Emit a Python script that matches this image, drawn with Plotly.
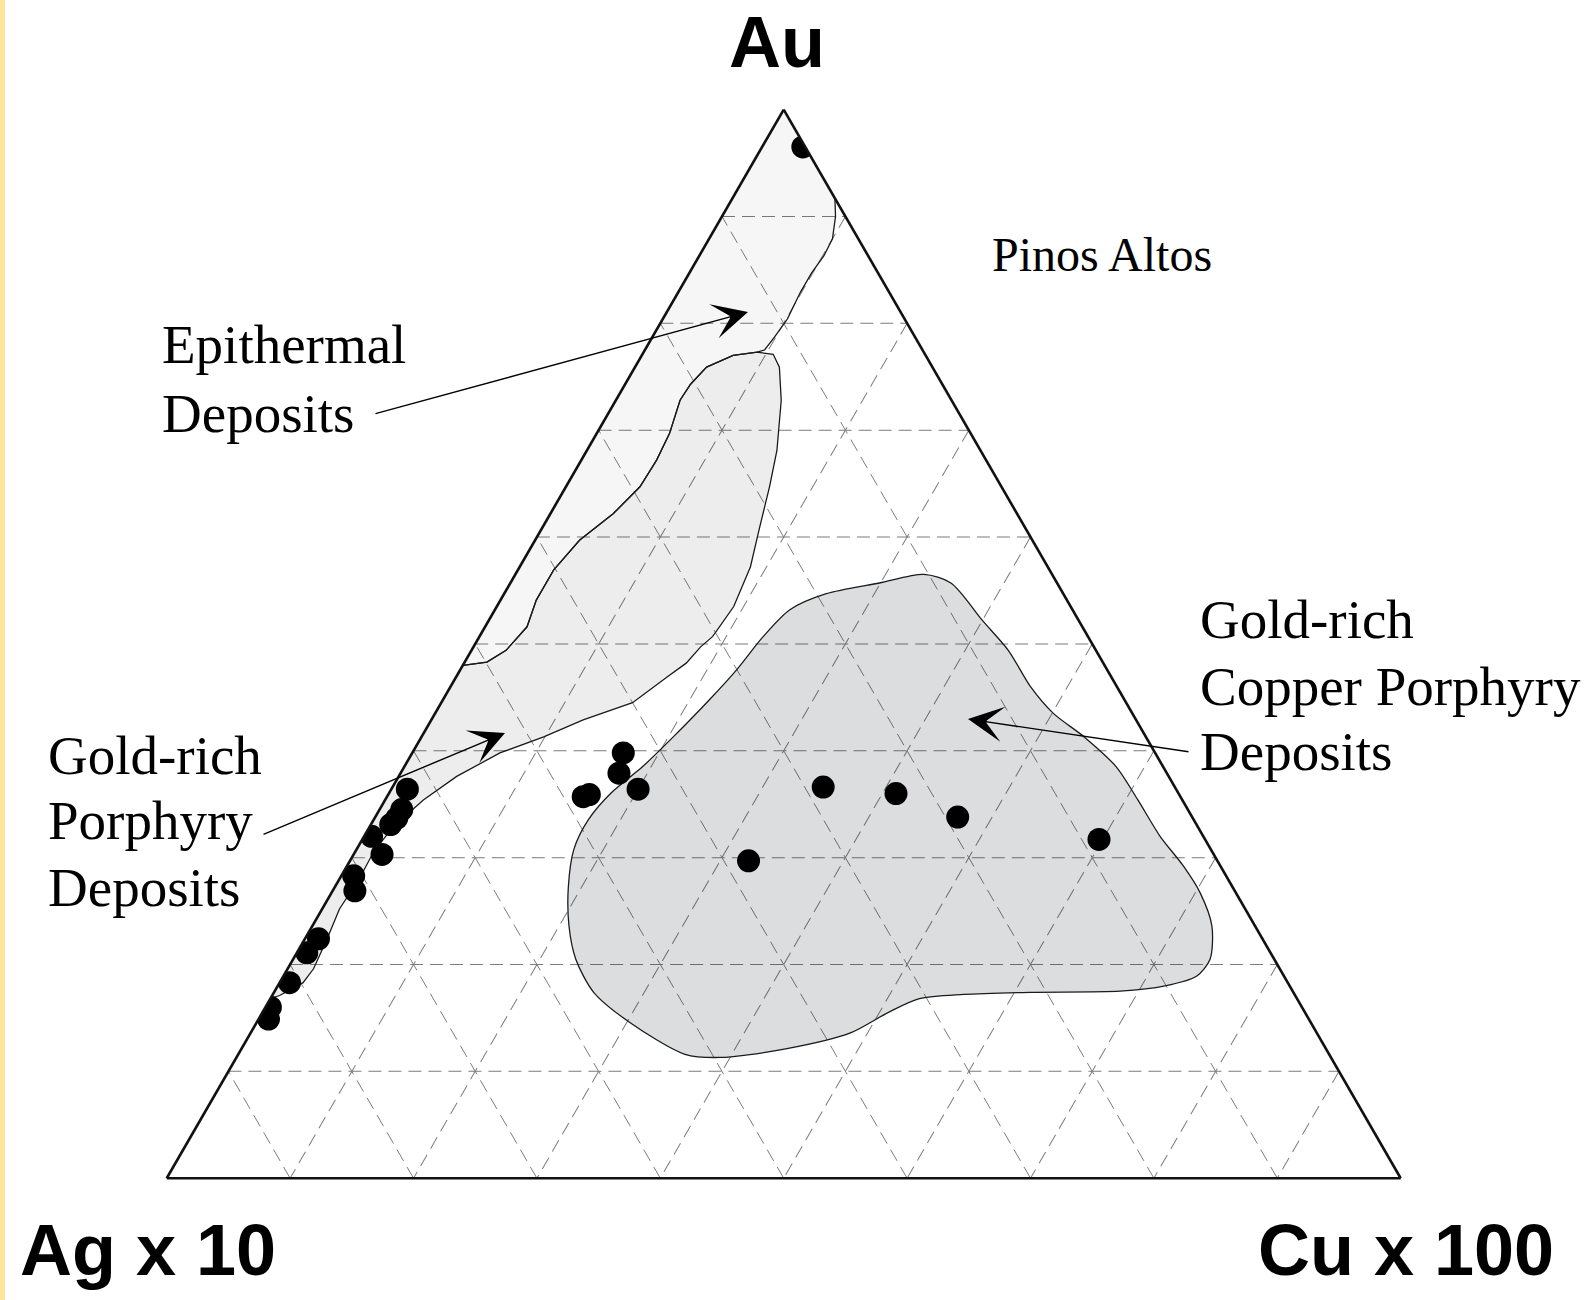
import plotly.graph_objects as go

W, H = 1585, 1300

# ---------------- data (percent of Au, Ag x 10, Cu x 100) ----------------
# Pinos Altos samples
pts_au = [96.5, 39.8, 37.9, 35.7, 35.9, 36.4, 36.6, 36.0, 33.8, 31.7, 29.7,
          36.4, 34.5, 33.7, 33.1, 32.0, 30.3, 28.3, 26.9, 22.4, 21.1, 18.3, 16.0, 14.9]
pts_ag = [0.2, 43.1, 44.4, 48.4, 47.8, 43.6, 28.5, 22.9, 19.0, 8.6, 38.0,
          62.3, 63.7, 64.5, 65.3, 67.4, 67.4, 70.7, 71.3, 76.5, 78.1, 80.9, 83.6, 84.3]
pts_cu = [3.3, 17.1, 17.7, 15.9, 16.3, 20.0, 34.9, 41.1, 47.2, 59.7, 32.3,
          1.3, 1.8, 1.8, 1.6, 0.6, 2.3, 1.0, 1.8, 1.1, 0.8, 0.8, 0.4, 0.8]

# Epithermal deposits field
epi_au = [100.0, 91.7, 90.0, 87.9, 86.3, 84.7, 82.9, 80.4, 78.7, 77.5, 77.3, 77.0, 75.9,
          74.3, 72.8, 69.7, 67.2, 64.7, 62.2, 59.7, 56.9, 54.1, 51.6, 49.4, 48.3, 48.0, 100.0]
epi_ag = [0.0, 0.0, 0.8, 2.1, 3.6, 5.4, 7.2, 9.5, 11.4, 12.8, 13.5, 15.6, 18.3,
          20.4, 22.0, 24.4, 26.7, 29.3, 32.7, 36.7, 40.2, 43.0, 45.0, 47.8, 49.9, 52.0, 0.0]
epi_cu = [0.0, 8.3, 9.2, 10.0, 10.1, 9.9, 9.9, 10.1, 9.9, 9.7, 9.2, 7.4, 5.8,
          5.3, 5.2, 5.9, 6.1, 6.0, 5.1, 3.6, 2.9, 2.9, 3.4, 2.8, 1.8, 0.0, 0.0]

# Gold-rich porphyry deposits field
por_au = [48.0, 48.3, 49.4, 51.6, 54.1, 56.9, 59.7, 62.2, 64.7, 67.2, 69.7, 72.8, 74.3, 75.9,
          77.0, 77.3, 77.1, 75.9, 72.8, 68.1, 64.7, 60.9, 57.2, 53.5, 50.7, 49.7, 48.2, 46.9,
          44.5, 42.9, 41.3, 39.8, 37.6, 35.4, 32.9, 30.5, 28.0, 25.2, 22.4, 19.6, 18.3, 17.1,
          16.8, 48.0]
por_ag = [52.0, 49.9, 47.8, 45.0, 43.0, 40.2, 36.7, 32.7, 29.3, 26.7, 24.4, 22.0, 20.4, 18.3,
          15.6, 13.5, 12.3, 12.4, 13.8, 16.5, 18.8, 21.5, 24.1, 27.3, 30.4, 31.9, 33.8, 36.0,
          40.0, 44.8, 48.8, 53.1, 57.7, 61.5, 65.2, 68.0, 70.4, 73.4, 75.8, 78.3, 79.8, 82.3,
          83.2, 52.0]
por_cu = [0.0, 1.8, 2.8, 3.4, 2.9, 2.9, 3.6, 5.1, 6.0, 6.1, 5.9, 5.2, 5.3, 5.8,
          7.4, 9.2, 10.6, 11.7, 13.4, 15.4, 16.5, 17.6, 18.7, 19.2, 18.9, 18.4, 18.0, 17.1,
          15.5, 12.3, 9.9, 7.1, 4.7, 3.1, 1.9, 1.5, 1.6, 1.4, 1.8, 2.1, 1.9, 0.6,
          0.0, 0.0]

# Gold-rich copper porphyry deposits field
cop_au = [56.5, 55.7, 52.2, 49.4, 46.0, 43.5, 41.3, 38.5, 35.4, 32.0, 29.2, 26.7, 23.6, 20.5,
          18.9, 18.0, 17.5, 17.4, 17.2, 16.8, 15.5, 13.6, 12.1, 11.3, 11.6, 14.6, 17.4, 20.5,
          23.6, 27.3, 30.8, 33.6, 36.1, 38.5, 41.3, 44.8, 47.6, 50.7, 53.2, 54.7, 55.7, 56.5]
cop_ag = [10.4, 8.6, 7.8, 7.1, 7.0, 6.4, 5.0, 3.8, 3.6, 3.5, 3.0, 2.9, 3.5, 5.2,
          7.1, 10.1, 14.0, 21.3, 26.8, 30.6, 33.8, 37.8, 43.8, 49.5, 52.2, 55.2, 56.7, 56.6,
          55.6, 53.8, 51.6, 49.0, 45.9, 42.2, 38.3, 33.6, 30.0, 26.3, 22.9, 19.2, 14.4, 10.4]
cop_cu = [33.1, 35.7, 40.0, 43.5, 47.0, 50.1, 53.7, 57.7, 61.0, 64.5, 67.8, 70.4, 72.9, 74.3,
          74.0, 71.9, 68.5, 61.3, 56.0, 52.6, 50.7, 48.6, 44.1, 39.2, 36.2, 30.2, 25.9, 22.9,
          20.8, 18.9, 17.6, 17.4, 18.0, 19.3, 20.4, 21.6, 22.4, 23.0, 23.9, 26.1, 29.9, 33.1]

axis_titles = ["Au", "Ag x 10", "Cu x 100"]
label_epi = ["Epithermal", "Deposits"]
label_por = ["Gold-rich", "Porphyry", "Deposits"]
label_cop = ["Gold-rich", "Copper Porphyry", "Deposits"]
label_site = "Pinos Altos"

# ---------------- figure ----------------
fig = go.Figure()

outline = dict(color="#1a1a1a", width=1.3)
fig.add_trace(go.Scatterternary(a=epi_au, b=epi_ag, c=epi_cu, mode="lines", fill="toself",
                                fillcolor="rgba(0,0,0,0.035)", line=outline,
                                hoverinfo="skip", showlegend=False))
fig.add_trace(go.Scatterternary(a=por_au, b=por_ag, c=por_cu, mode="lines", fill="toself",
                                fillcolor="rgba(0,0,0,0.07)", line=outline,
                                hoverinfo="skip", showlegend=False))
fig.add_trace(go.Scatterternary(a=cop_au, b=cop_ag, c=cop_cu, mode="lines", fill="toself",
                                fillcolor="rgba(20,25,40,0.15)",
                                line=dict(color="#1a1a1a", width=1.3, shape="spline", smoothing=0.8),
                                hoverinfo="skip", showlegend=False))
fig.add_trace(go.Scatterternary(a=pts_au, b=pts_ag, c=pts_cu, mode="markers",
                                marker=dict(color="black", size=23),
                                showlegend=False))

axis_common = dict(dtick=10, showticklabels=False, ticks="", showline=True,
                   linecolor="#111111", linewidth=2.6, showgrid=True,
                   gridcolor="#7c7c7c", gridwidth=1.3, griddash="13px,7px",
                   title=dict(text=""), min=0)

fig.update_layout(
    width=W, height=H,
    margin=dict(l=0, r=0, t=0, b=0),
    paper_bgcolor="white",
    showlegend=False,
    ternary=dict(
        sum=100,
        domain=dict(x=[0.10518, 0.88372], y=[0.08, 0.92938]),
        bgcolor="white",
        aaxis=axis_common, baxis=axis_common, caxis=axis_common,
    ),
)

def px(x):
    return x / W

def py(y):
    return 1 - y / H

annotations = []
serif = dict(family="Liberation Serif, Times New Roman, serif", size=55, color="black")
sans = dict(family="Liberation Sans, Arial, sans-serif", size=72, color="black", weight="bold")

# axis titles
for txt, (x, y) in zip(axis_titles, [(777, 42), (147.5, 1250), (1406, 1250)]):
    annotations.append(dict(text=txt, x=px(x), y=py(y), xref="paper", yref="paper",
                            xanchor="center", yanchor="middle", showarrow=False, font=sans))

# field labels
def add_lines(lines, x, ys, size=55):
    f = dict(serif)
    f["size"] = size
    for t, y in zip(lines, ys):
        annotations.append(dict(text=t, x=px(x), y=py(y), xref="paper", yref="paper",
                                xanchor="left", yanchor="middle", showarrow=False, font=f))

add_lines(label_epi, 160, [345, 413])
add_lines(label_por, 46, [755, 821, 887])
add_lines(label_cop, 1198, [619, 686, 751])
add_lines([label_site], 990, [255], size=48)

# arrows (head position, tail offset in px)
for (hx, hy, tx, ty) in [(748, 312, 374, 414), (505, 733, 262, 835), (968, 719, 1190, 752)]:
    annotations.append(dict(text="", x=px(hx), y=py(hy), xref="paper", yref="paper",
                            ax=tx - hx, ay=ty - hy, showarrow=True, arrowhead=3,
                            arrowsize=4.2, arrowwidth=1.4, arrowcolor="black", standoff=0))

fig.update_layout(annotations=annotations)

# yellow strip at the left page edge
fig.add_shape(type="rect", xref="paper", yref="paper", x0=0, x1=5 / W, y0=0, y1=1,
              fillcolor="#FFE79A", line=dict(width=0), layer="below")

fig.write_html("out.html", config={"displayModeBar": False},
               post_script="document.body.style.margin='0';document.body.style.overflow='hidden';")
